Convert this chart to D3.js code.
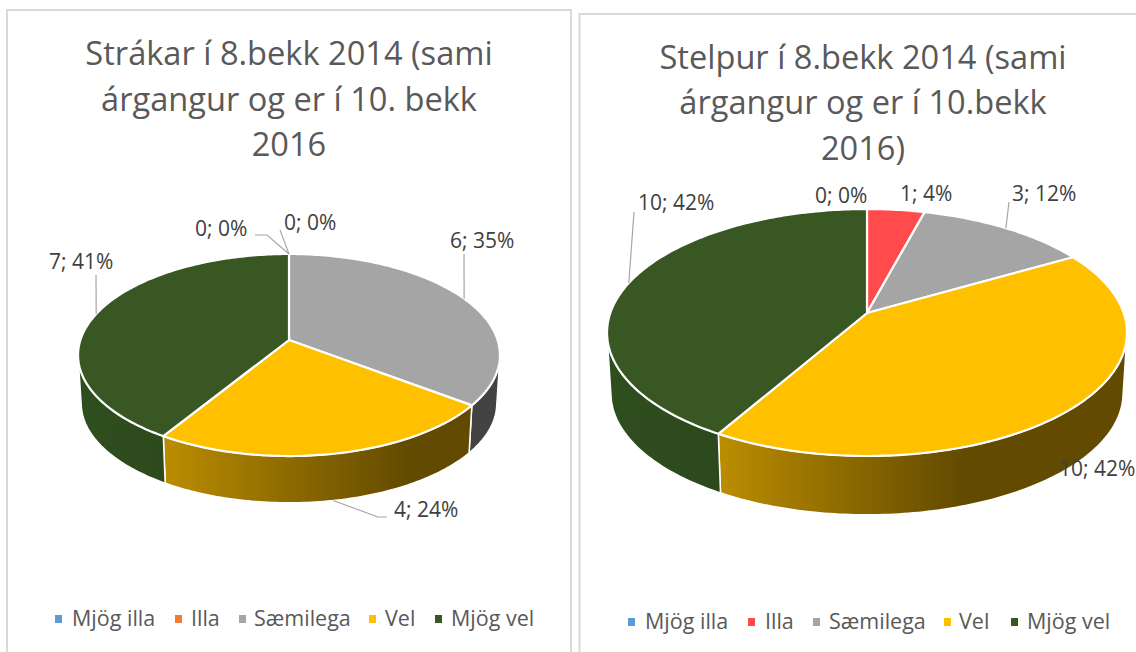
<!DOCTYPE html>
<html>
<head>
<meta charset="utf-8">
<style>
	html, body { margin: 0; padding: 0; background: #fff; overflow: hidden; }
	text { font-family: "Open Sans", sans-serif; }
</style>
<script src="https://cdn.jsdelivr.net/npm/d3@7"></script>
</head>
<body>
<svg id="chart" width="1136" height="652"></svg>
<script>
var categories = ["Mjög illa", "Illa", "Sæmilega", "Vel", "Mjög vel"];
var boysValues = [0, 0, 6, 4, 7];
var boysPercents = [0, 0, 35, 24, 41];
var girlsValues = [0, 1, 3, 10, 10];
var girlsPercents = [0, 4, 12, 42, 42];
var boysTitle = ["Strákar í 8.bekk 2014 (sami", "árgangur og er í 10. bekk", "2016"];
var girlsTitle = ["Stelpur í 8.bekk 2014 (sami", "árgangur og er í 10.bekk", "2016)"];

var boysColours = ["#5b9bd5", "#ed7d31", "#a5a5a5", "#ffc000", "#385723"];
var girlsColours = ["#5b9bd5", "#ff4b4b", "#a5a5a5", "#ffc000", "#385723"];
var sideLight = ["#3a6a94", "#b0561f", "#434343", "#bb8d00", "#2f4e1e"];
var sideDark = ["#3a6a94", "#b0561f", "#434343", "#624a00", "#29421a"];

var svg = d3.select("#chart");
var defs = svg.append("defs");

// panel frames, they run off the bottom of the picture
svg.append("path").attr("d", "M7,660V10H571V660")
	.attr("fill", "none").attr("stroke", "#d9d9d9").attr("stroke-width", 2);
svg.append("path").attr("d", "M579.5,660V14H1140")
	.attr("fill", "none").attr("stroke", "#d9d9d9").attr("stroke-width", 2);

function drawTitle(lines, cx, ys) {
	for(var i in lines) {
		svg.append("text")
			.attr("x", cx)
			.attr("y", ys[i])
			.attr("text-anchor", "middle")
			.attr("font-size", 32.6)
			.attr("fill", "#595959")
			.text(lines[i]);
	}
}

function drawLegend(colours, markerX, textX, y) {
	for(var i in categories) {
		svg.append("rect")
			.attr("x", markerX[i])
			.attr("y", y - 4)
			.attr("width", 7)
			.attr("height", 8)
			.attr("fill", colours[i]);
		svg.append("text")
			.attr("x", textX[i])
			.attr("y", y + 7)
			.attr("font-size", 21.5)
			.attr("fill", "#595959")
			.text(categories[i]);
	}
}

// circle seen in perspective, the near side of the pie comes out bigger
function projector(p, scale, drop) {
	return function(angle) {
		var u = Math.sin(angle);
		var v = -Math.cos(angle);
		var w = 1 - p.k * v;
		return [p.cx + p.r * scale * u / w, p.cy + drop + p.s * scale * v / w];
	};
}

function arcAngles(a0, a1) {
	var n = Math.max(2, Math.ceil((a1 - a0) * 60));
	var out = [];
	for(var i = 0; i <= n; i++) {
		out.push(a0 + (a1 - a0) * i / n);
	}
	return out;
}

// only the part of the rim that faces the viewer gets a side wall
function facesViewer(top, bottom, a) {
	var p0 = top(a);
	var p1 = top(a + 0.001);
	var q = bottom(a);
	var tx = p1[0] - p0[0], ty = p1[1] - p0[1];
	var dx = q[0] - p0[0], dy = q[1] - p0[1];
	return tx * dy - ty * dx < 0;
}

function drawPie(id, p, values, colours) {
	var slices = d3.pie().sort(null).startAngle(0).endAngle(2 * Math.PI)(values);
	var top = projector(p, 1, 0);
	var bottom = projector(p, 0.985, p.depth);
	var line = d3.line();

	slices.forEach(function(d, i) {
		if(d.value == 0) return;
		var angles = arcAngles(d.startAngle, d.endAngle).filter(function(a) {
			return facesViewer(top, bottom, a);
		});
		if(angles.length < 2) return;
		var upper = angles.map(top);
		var lower = angles.map(bottom).reverse();
		var x0 = d3.min(arcAngles(d.startAngle, d.endAngle).map(top), function(q) { return q[0]; });
		var grad = defs.append("linearGradient")
			.attr("id", id + "side" + i)
			.attr("gradientUnits", "userSpaceOnUse")
			.attr("x1", x0).attr("x2", x0 + 245).attr("y1", 0).attr("y2", 0);
		grad.append("stop").attr("offset", 0).attr("stop-color", sideLight[i]);
		grad.append("stop").attr("offset", 1).attr("stop-color", sideDark[i]);
		svg.append("path")
			.attr("d", line(upper.concat(lower)) + "Z")
			.attr("fill", "url(#" + id + "side" + i + ")")
			.attr("stroke", "#fff")
			.attr("stroke-width", 1.5)
			.attr("stroke-linejoin", "round");
	});

	slices.forEach(function(d, i) {
		if(d.value == 0) return;
		var pts = [[p.cx, p.cy]].concat(arcAngles(d.startAngle, d.endAngle).map(top));
		svg.append("path")
			.attr("d", line(pts) + "Z")
			.attr("fill", colours[i])
			.attr("stroke", "#fff")
			.attr("stroke-width", 2.2)
			.attr("stroke-linejoin", "round");
	});
	return { slices: slices, top: top, bottom: bottom };
}

// leader line: from the label, through an optional bend, to the middle of the slice rim
function drawLeader(from, bend, to) {
	var pts = bend ? [from, bend, to] : [from, to];
	svg.append("path")
		.attr("d", d3.line()(pts))
		.attr("fill", "none")
		.attr("stroke", "#a6a6a6")
		.attr("stroke-width", 1.2);
}

function drawLabel(value, percent, x, y) {
	svg.append("text")
		.attr("x", x)
		.attr("y", y)
		.attr("font-size", 21)
		.attr("fill", "#404040")
		.text(value + "; " + percent + "%");
}

function midAngle(d) {
	return (d.startAngle + d.endAngle) / 2;
}

// left chart
drawTitle(boysTitle, 289, [65, 111, 156]);
var boys = drawPie("boys", {cx: 289, cy: 340, r: 208.6, s: 98.8, k: 0.1486, depth: 48.5}, boysValues, boysColours);
drawLeader([255, 235], [267, 235], boys.top(0));
drawLeader([280, 230], null, boys.top(0));
drawLeader([464, 254], null, boys.top(midAngle(boys.slices[2])));
drawLeader([96, 275], null, boys.top(midAngle(boys.slices[4])));
drawLeader([387, 517], [378, 517], boys.bottom(midAngle(boys.slices[3])));
drawLabel(boysValues[0], boysPercents[0], 195, 236);
drawLabel(boysValues[1], boysPercents[1], 284, 230);
drawLabel(boysValues[2], boysPercents[2], 450, 248);
drawLabel(boysValues[3], boysPercents[3], 394, 517);
drawLabel(boysValues[4], boysPercents[4], 49, 269);
drawLegend(boysColours, [55, 175, 239, 369, 435], [72, 191, 254, 385, 451], 619);

// right chart
drawTitle(girlsTitle, 863, [69, 114, 160]);
var girls = drawPie("girls", {cx: 867, cy: 313, r: 256.7, s: 120.4, k: 0.158, depth: 61}, girlsValues, girlsColours);
drawLeader([1009, 202], null, girls.top(midAngle(girls.slices[2])));
drawLeader([634, 212], null, girls.top(midAngle(girls.slices[4])));
drawLabel(girlsValues[0], girlsPercents[0], 815, 203);
drawLabel(girlsValues[1], girlsPercents[1], 900, 201);
drawLabel(girlsValues[2], girlsPercents[2], 1012, 201);
drawLabel(girlsValues[3], girlsPercents[3], 1059, 476);
drawLabel(girlsValues[4], girlsPercents[4], 638, 210);
drawLegend(girlsColours, [628, 748, 813, 944, 1011], [645, 765, 829, 959, 1027], 622);
</script>
</body>
</html>
